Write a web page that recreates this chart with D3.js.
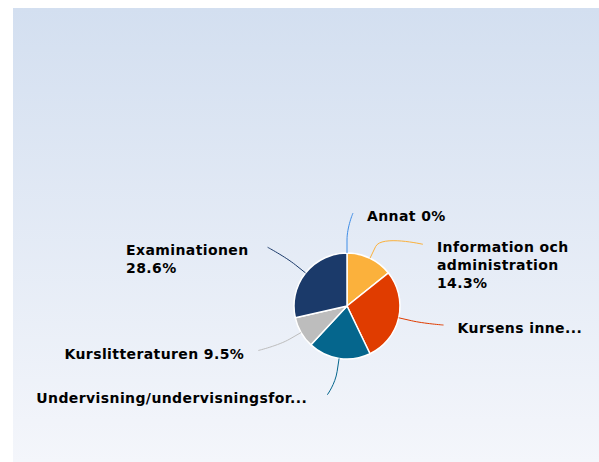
<!DOCTYPE html>
<html>
<head>
<meta charset="utf-8">
<script src="https://cdn.jsdelivr.net/npm/d3@7"></script>
<style>
  html, body { margin: 0; padding: 0; background: #fff; }
  svg { display: block; }
</style>
</head>
<body>
<svg id="chart" width="599" height="462"></svg>
<script>
// ---- data ----
const categories = ["Annat", "Information och administration", "Kursens inne...", "Undervisning/undervisningsfor...", "Kurslitteraturen", "Examinationen"];
const counts = [0, 3, 6, 4, 2, 6];
const labelLines = [
  ["Annat 0%"],
  ["Information och", "administration", "14.3%"],
  ["Kursens inne..."],
  ["Undervisning/undervisningsfor..."],
  ["Kurslitteraturen 9.5%"],
  ["Examinationen", "28.6%"]
];
const colors = ["#3f8de6", "#fbb13c", "#e03c00", "#05668d", "#bdbdbd", "#1b3a6a"];

// ---- layout ----
const W = 599, H = 462;
const cx = 347, cy = 306, r = 53;
const labelR = 99, kneeR = 66;
const nudges = [[6, 6], [33, 27.5], [0, -3], [-5, -9], [-3, -5], [-2, 3]];
const gaps = [14, 14, 14, 20, 14, 19];
const lineH = 17.6;

const svg = d3.select("#chart");
const defs = svg.append("defs");
const grad = defs.append("linearGradient").attr("id", "bg").attr("x1", 0).attr("y1", 0).attr("x2", 0).attr("y2", 1);
grad.append("stop").attr("offset", "0%").attr("stop-color", "#d3dff0");
grad.append("stop").attr("offset", "100%").attr("stop-color", "#f4f6fb");
svg.append("rect").attr("x", 13).attr("y", 8).attr("width", W - 13).attr("height", H - 8).attr("fill", "url(#bg)");

const data = categories.map((c, i) => ({ name: c, value: counts[i], color: colors[i], lines: labelLines[i] }));
const pie = d3.pie().value(d => d.value).sort(null).startAngle(0).endAngle(2 * Math.PI);
const arcs = pie(data);
const arc = d3.arc().innerRadius(0).outerRadius(r);

const g = svg.append("g").attr("transform", `translate(${cx},${cy})`);
g.selectAll("path.slice").data(arcs).enter().append("path")
  .attr("class", "slice")
  .attr("d", arc)
  .attr("fill", d => d.data.color)
  .attr("stroke", "#fff")
  .attr("stroke-width", 1.5)
  .attr("stroke-linejoin", "round");

const pt = (a, rad) => [Math.sin(a) * rad, -Math.cos(a) * rad];

arcs.forEach((d, i) => {
  const a = (d.startAngle + d.endAngle) / 2;
  const E = pt(a, r);
  const K = pt(a, kneeR);
  const L0 = pt(a, labelR);
  const L = [L0[0] + nudges[i][0], L0[1] + nudges[i][1]];
  const right = Math.sin(a) >= -1e-9;
  const C2 = [2 * K[0] - E[0], 2 * K[1] - E[1]];
  const path = `M${L[0]},${L[1]} C${L[0]},${L[1]} ${C2[0]},${C2[1]} ${K[0]},${K[1]} L${E[0]},${E[1]}`;
  g.append("path").attr("d", path).attr("fill", "none").attr("stroke", d.data.color).attr("stroke-width", 1);

  const t = g.append("text")
    .attr("y", L[1] + 8)
    .attr("font-family", "'DejaVu Sans', Verdana, sans-serif")
    .attr("font-weight", "bold")
    .attr("font-size", "14px")
    .attr("letter-spacing", "0.4px")
    .attr("fill", "#000");
  const spans = d.data.lines.map((ln, j) =>
    t.append("tspan").attr("dy", j === 0 ? 0 : lineH).text(ln));
  const maxW = d3.max(spans, s => s.node().getComputedTextLength());
  const tx = right ? L[0] + gaps[i] : L[0] - gaps[i] - maxW;
  spans.forEach(s => s.attr("x", tx));
});
</script>
</body>
</html>
